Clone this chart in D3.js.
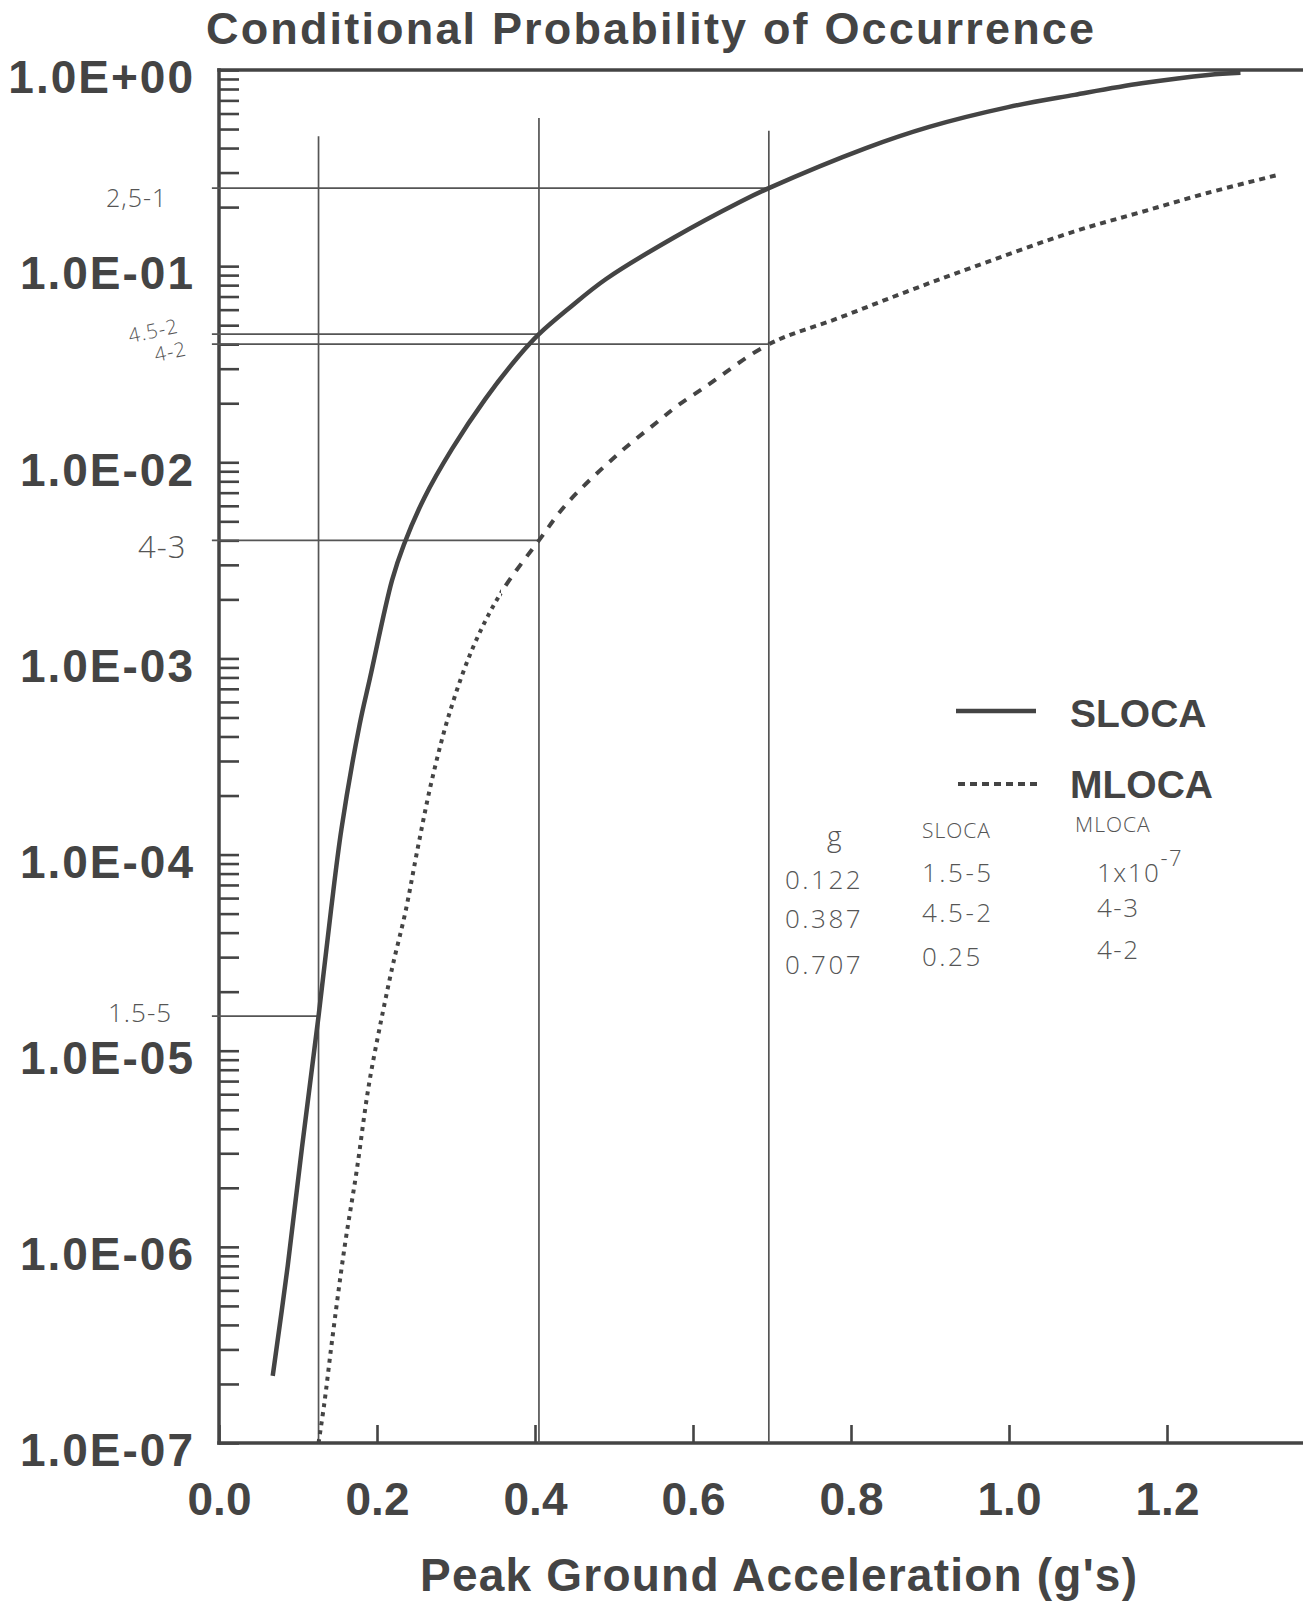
<!DOCTYPE html>
<html><head><meta charset="utf-8">
<script src="https://cdn.jsdelivr.net/npm/d3@7"></script>
<style>html,body{margin:0;padding:0;background:#fff;} svg{display:block;}</style>
</head><body>
<svg id="chart" width="1303" height="1604"></svg>
<script>
// ---------- data ----------
const slocaG = [0.068, 0.087, 0.105, 0.126, 0.1415, 0.155, 0.178, 0.191, 0.219, 0.234, 0.260, 0.295, 0.337, 0.380, 0.405, 0.443, 0.490, 0.576, 0.660, 0.696, 0.819, 0.899, 0.999, 1.083, 1.168, 1.252, 1.293];
const slocaP = [2.2e-7, 8.0e-7, 3.2e-6, 1.5e-5, 5.1e-5, 1.35e-4, 4.6e-4, 7.9e-4, 2.5e-3, 3.8e-3, 6.6e-3, 1.17e-2, 2.1e-2, 3.5e-2, 4.5e-2, 6.1e-2, 8.6e-2, 0.14, 0.213, 0.25, 0.40, 0.513, 0.647, 0.747, 0.855, 0.944, 0.968];
const mlocaG = [0.126, 0.1334, 0.143, 0.159, 0.174, 0.190, 0.210, 0.2206, 0.236, 0.252, 0.2695, 0.292, 0.322, 0.357, 0.405, 0.441, 0.505, 0.556, 0.581, 0.616, 0.696, 0.785, 0.870, 0.955, 1.082, 1.166, 1.251, 1.342];
const mlocaP = [1.0e-7, 1.6e-7, 3.3e-7, 1.0e-6, 2.4e-6, 6.8e-6, 1.77e-5, 2.8e-5, 5.1e-5, 1.1e-4, 2.4e-4, 5.3e-4, 1.15e-3, 2.16e-3, 4.0e-3, 6.2e-3, 1.1e-2, 1.62e-2, 1.95e-2, 2.43e-2, 4.0e-2, 5.45e-2, 7.4e-2, 9.9e-2, 0.15, 0.188, 0.236, 0.293];

const seriesNames = ["SLOCA", "MLOCA"];
const xTickValues = [0, 0.2, 0.4, 0.6, 0.8, 1.0, 1.2];
const xTickLabels = ["0.0", "0.2", "0.4", "0.6", "0.8", "1.0", "1.2"];
const decadeExps = [0, -1, -2, -3, -4, -5, -6, -7];
const decadeLabels = ["1.0E+00", "1.0E-01", "1.0E-02", "1.0E-03", "1.0E-04", "1.0E-05", "1.0E-06", "1.0E-07"];

// hand-drawn marker lines
const guideG = [0.126, 0.405, 0.696];
const guideTopP = [0.46, 0.57, 0.49];
const levelP = [0.25, 0.045, 0.04, 0.004, 1.5e-5];
const levelEndG = [0.696, 0.405, 0.696, 0.405, 0.126];
const levelLabels = ["2,5-1", "4.5-2", "4-2", "4-3", "1.5-5"];

// handwritten table
const tableHeader = ["g", "SLOCA", "MLOCA"];
const tableG = ["0.122", "0.387", "0.707"];
const tableSloca = ["1.5-5", "4.5-2", "0.25"];
const tableMloca = ["1x10", "4-3", "4-2"];
const tableMlocaExp = ["-7", "", ""];

const title = "Conditional Probability of Occurrence";
const xTitle = "Peak Ground Acceleration (g's)";

// ---------- drawing ----------
const ink = "#444";
const font = "'Liberation Sans', Arial, Helvetica, sans-serif";
const hand = "'Open Sans', 'Liberation Sans', sans-serif";
const svg = d3.select("#chart");
svg.append("rect").attr("width", 1303).attr("height", 1604).attr("fill", "#fff");

const x = d3.scaleLinear().domain([0, 1.4]).range([219, 1325]);
const y = d3.scaleLog().domain([1e-7, 1]).range([1443, 70]);

// Title
svg.append("text").attr("x", 206).attr("y", 44)
  .attr("font-family", font).attr("font-weight", "bold").attr("font-size", 45)
  .attr("fill", ink).attr("textLength", 888).attr("lengthAdjust", "spacing")
  .text(title);

// Y axis ticks (log minor ticks, labels at decades)
const yTickVals = [1];
for (let e = -7; e < 0; e++) for (let m = 1; m <= 9; m++) yTickVals.push(m * Math.pow(10, e));
const isDecade = d => Math.abs(Math.log10(d) - Math.round(Math.log10(d))) < 1e-9;
const yAxis = d3.axisLeft(y).tickValues(yTickVals).tickSizeInner(-20).tickSizeOuter(0).tickPadding(24)
  .tickFormat(d => {
    if (!isDecade(d)) return "";
    const i = decadeExps.indexOf(Math.round(Math.log10(d)));
    return decadeLabels[i];
  });
const gy = svg.append("g").attr("transform", `translate(${x(0)},0)`).call(yAxis);
gy.select(".domain").remove();
gy.selectAll(".tick line").attr("stroke", ink).attr("stroke-width", 2.6);
gy.selectAll(".tick text").attr("font-family", font).attr("font-weight", "bold")
  .attr("font-size", 46).attr("letter-spacing", 2).attr("fill", ink).attr("y", 8);

// X axis
const xAxis = d3.axisBottom(x).tickValues(xTickValues).tickSizeInner(-18).tickSizeOuter(0).tickPadding(39)
  .tickFormat((d, i) => xTickLabels[i]);
const gx = svg.append("g").attr("transform", `translate(0,${y(1e-7)})`).call(xAxis);
gx.select(".domain").remove();
gx.selectAll(".tick line").attr("stroke", ink).attr("stroke-width", 2.6);
gx.selectAll(".tick text").attr("font-family", font).attr("font-weight", "bold")
  .attr("font-size", 46).attr("fill", ink);

// X axis title
svg.append("text").attr("x", 420).attr("y", 1591)
  .attr("font-family", font).attr("font-weight", "bold").attr("font-size", 46)
  .attr("fill", ink).attr("textLength", 717).attr("lengthAdjust", "spacing")
  .text(xTitle);

// Frame
const frame = svg.append("g").attr("stroke", ink).attr("stroke-width", 3.5).attr("stroke-linecap", "square");
frame.append("line").attr("x1", x(0)).attr("x2", x(0)).attr("y1", y(1)).attr("y2", y(1e-7));
frame.append("line").attr("x1", x(0)).attr("x2", 1303).attr("y1", y(1)).attr("y2", y(1));
frame.append("line").attr("x1", x(0)).attr("x2", 1303).attr("y1", y(1e-7)).attr("y2", y(1e-7));

// Hand-drawn guide lines
const guides = svg.append("g").attr("stroke", "#555").attr("stroke-width", 1.7).attr("fill", "none");
guideG.forEach((g, i) => {
  guides.append("line").attr("x1", x(g)).attr("x2", x(g)).attr("y1", y(1e-7)).attr("y2", y(guideTopP[i]));
});
levelP.forEach((p, i) => {
  guides.append("line").attr("x1", x(-0.009)).attr("x2", x(levelEndG[i])).attr("y1", y(p)).attr("y2", y(p));
});

// Hand-written level labels
const handLabelPos = [[106, 207, 25, 0], [130, 343, 20, -12], [156, 362, 20, -12], [138, 558, 31, 0], [108, 1022, 26, 0]];
levelLabels.forEach((t, i) => {
  const [lx, ly, fs, rot] = handLabelPos[i];
  svg.append("text").attr("x", lx).attr("y", ly)
    .attr("transform", `rotate(${rot},${lx},${ly})`)
    .attr("font-family", hand).attr("font-weight", 300).attr("font-size", fs)
    .attr("fill", "#555").attr("letter-spacing", 1).text(t);
});

// Curves
const pts = (gs, ps) => gs.map((g, i) => ({ g, p: ps[i] }));
const line = d3.line().x(d => x(d.g)).y(d => y(d.p)).curve(d3.curveCatmullRom.alpha(0.5));
const sloca = pts(slocaG, slocaP);
const mloca = pts(mlocaG, mlocaP);

svg.append("path").attr("d", line(sloca)).attr("fill", "none")
  .attr("stroke", ink).attr("stroke-width", 4.5).attr("stroke-linejoin", "round");

// MLOCA: one smooth path, drawn with three dash styles in x-bands
const defs = svg.append("defs");
const bands = [
  { from: 0.0, to: 0.357, dash: "4,5" },
  { from: 0.357, to: 0.696, dash: "9,9" },
  { from: 0.696, to: 1.5, dash: "6,5" }
];
bands.forEach((b, i) => {
  defs.append("clipPath").attr("id", "mband" + i).append("rect")
    .attr("x", x(b.from)).attr("y", 0).attr("width", x(b.to) - x(b.from)).attr("height", 1604);
  svg.append("path").attr("d", line(mloca)).attr("fill", "none")
    .attr("clip-path", `url(#mband${i})`)
    .attr("stroke", ink).attr("stroke-width", 4).attr("stroke-dasharray", b.dash);
});

// Legend
const leg = svg.append("g");
leg.append("line").attr("x1", 956).attr("x2", 1036).attr("y1", 711).attr("y2", 711)
  .attr("stroke", ink).attr("stroke-width", 4.5);
leg.append("line").attr("x1", 958).attr("x2", 1037).attr("y1", 784).attr("y2", 784)
  .attr("stroke", ink).attr("stroke-width", 4).attr("stroke-dasharray", "7,5");
[727, 798].forEach((ly, i) => {
  leg.append("text").attr("x", 1070).attr("y", ly)
    .attr("font-family", font).attr("font-weight", "bold").attr("font-size", 39)
    .attr("fill", ink).text(seriesNames[i]);
});

// Handwritten table
const tbl = svg.append("g").attr("font-family", hand).attr("font-weight", 300).attr("fill", "#555");
const colX = [785, 922, 1097];
const headY = [846, 838, 832];
tableHeader.forEach((t, i) => {
  tbl.append("text").attr("x", i === 0 ? 827 : colX[i] - (i === 2 ? 22 : 0)).attr("y", headY[i])
    .attr("font-size", i === 0 ? 28 : 21).attr("letter-spacing", 1).text(t);
});
const rowY = [[889, 882, 882], [928, 922, 917], [974, 966, 959]];
for (let r = 0; r < 3; r++) {
  tbl.append("text").attr("x", colX[0]).attr("y", rowY[r][0]).attr("font-size", 26).attr("letter-spacing", 2.5).text(tableG[r]);
  tbl.append("text").attr("x", colX[1]).attr("y", rowY[r][1]).attr("font-size", 26).attr("letter-spacing", 2.5).text(tableSloca[r]);
  const t = tbl.append("text").attr("x", colX[2]).attr("y", rowY[r][2]).attr("font-size", 26).attr("letter-spacing", 1.5).text(tableMloca[r]);
  if (tableMlocaExp[r]) t.append("tspan").attr("dy", -16).attr("font-size", 22).text(tableMlocaExp[r]);
}
</script>
</body></html>
